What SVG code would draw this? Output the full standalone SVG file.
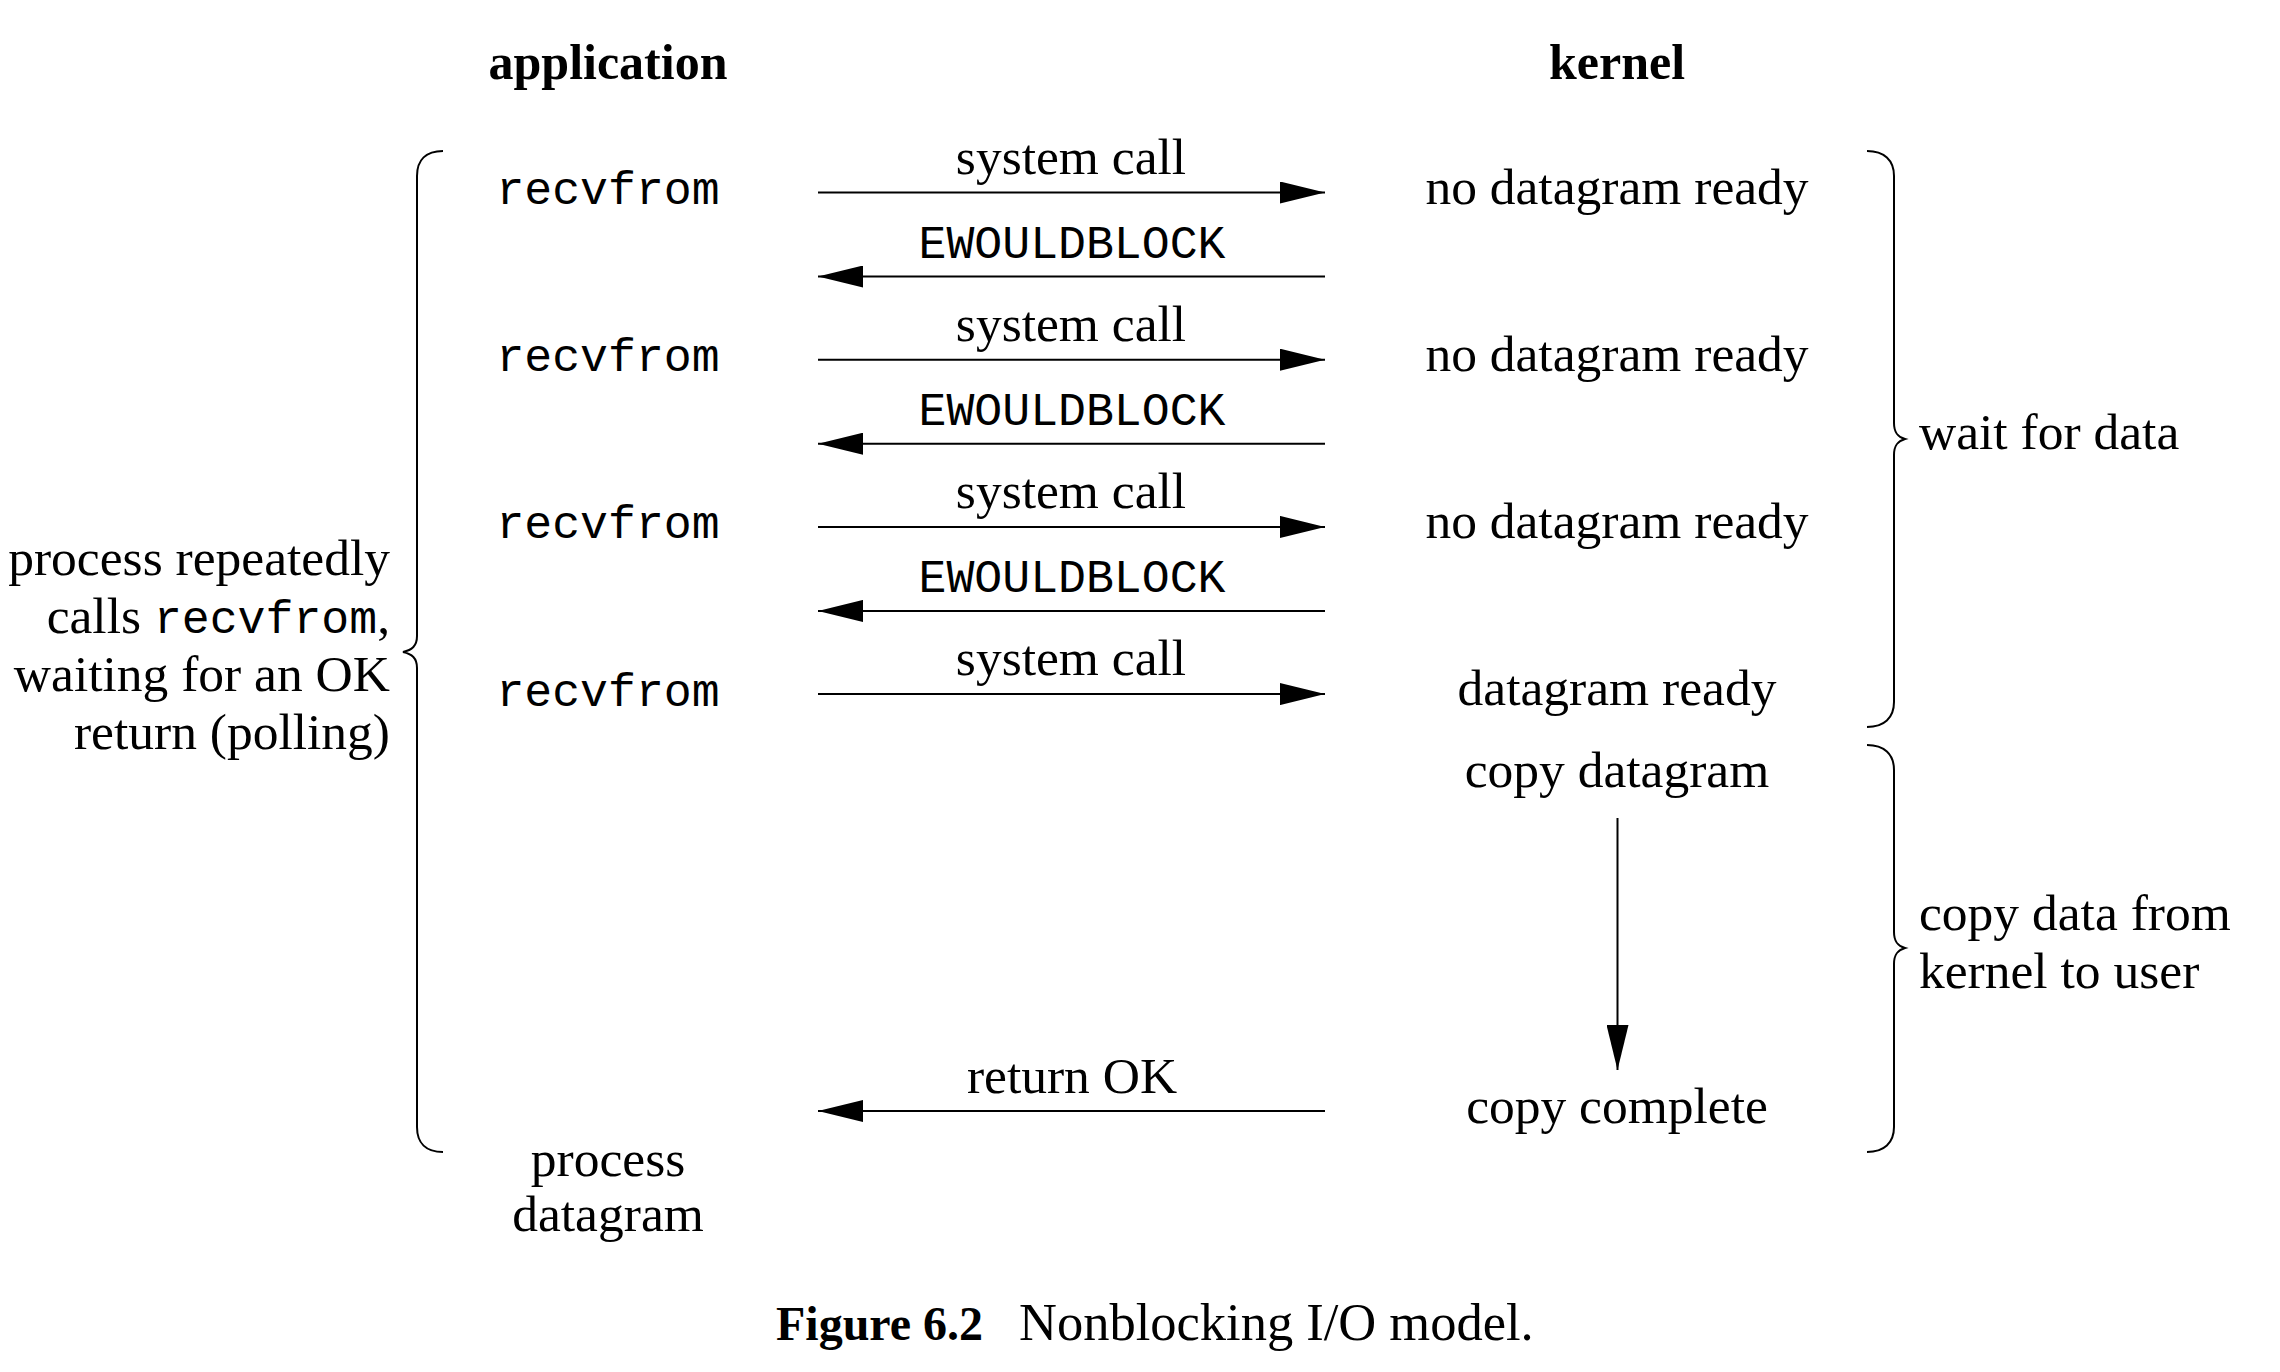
<svg xmlns="http://www.w3.org/2000/svg" width="2280" height="1372" viewBox="0 0 2280 1372">
<style>
.s{font-family:"Liberation Serif","Times New Roman",serif;font-size:51.5px;fill:#000}
.b{font-family:"Liberation Serif","Times New Roman",serif;font-size:50px;font-weight:bold;fill:#000}
.m{font-family:"Liberation Mono","Courier New",monospace;font-size:46.5px;fill:#000}
.c{text-anchor:middle}
.e{text-anchor:end}
.ln{stroke:#000;stroke-width:2;fill:none}
.br{stroke:#000;stroke-width:2;fill:none}
</style>
<defs>
<marker id="ah" viewBox="0 0 45 22" refX="45" refY="11" markerWidth="45" markerHeight="22" orient="auto" markerUnits="userSpaceOnUse">
<path d="M0,0 L45,11 L0,22 Z" fill="#000"/>
</marker>
</defs>
<rect width="2280" height="1372" fill="#fff"/>

<g id="headers">
<text class="b c" x="608" y="79">application</text>
<text class="b c" x="1617" y="79">kernel</text>
</g>

<g id="app-calls">
<text class="m c" x="608" y="204">recvfrom</text>
<text class="m c" x="608" y="371">recvfrom</text>
<text class="m c" x="608" y="538">recvfrom</text>
<text class="m c" x="608" y="706">recvfrom</text>
<text class="s c" x="608" y="1176">process</text>
<text class="s c" x="608" y="1231">datagram</text>
</g>

<g id="kernel-states">
<text class="s c" x="1617" y="204">no datagram ready</text>
<text class="s c" x="1617" y="371">no datagram ready</text>
<text class="s c" x="1617" y="538">no datagram ready</text>
<text class="s c" x="1617" y="705">datagram ready</text>
<text class="s c" x="1617" y="787">copy datagram</text>
<text class="s c" x="1617" y="1123">copy complete</text>
</g>

<g id="connectors">
<line class="ln" x1="818" y1="192.5" x2="1325" y2="192.5" marker-end="url(#ah)"/>
<line class="ln" x1="1325" y1="276.5" x2="818" y2="276.5" marker-end="url(#ah)"/>
<line class="ln" x1="818" y1="359.7" x2="1325" y2="359.7" marker-end="url(#ah)"/>
<line class="ln" x1="1325" y1="443.7" x2="818" y2="443.7" marker-end="url(#ah)"/>
<line class="ln" x1="818" y1="526.9" x2="1325" y2="526.9" marker-end="url(#ah)"/>
<line class="ln" x1="1325" y1="610.9" x2="818" y2="610.9" marker-end="url(#ah)"/>
<line class="ln" x1="818" y1="694.1" x2="1325" y2="694.1" marker-end="url(#ah)"/>
<line class="ln" x1="1617.5" y1="818" x2="1617.5" y2="1070" marker-end="url(#ah)"/>
<line class="ln" x1="1325" y1="1111" x2="818" y2="1111" marker-end="url(#ah)"/>
</g>

<g id="connector-labels">
<text class="s c" x="1071" y="174">system call</text>
<text class="m c" x="1072" y="258">EWOULDBLOCK</text>
<text class="s c" x="1071" y="341">system call</text>
<text class="m c" x="1072" y="425">EWOULDBLOCK</text>
<text class="s c" x="1071" y="508">system call</text>
<text class="m c" x="1072" y="592">EWOULDBLOCK</text>
<text class="s c" x="1071" y="675">system call</text>
<text class="s c" x="1072" y="1093">return OK</text>
</g>

<g id="left-brace">
<path class="br" d="M443,151 C426,151 417,160 417,176 L417,636 C417,646 412,650 403,652 C412,654 417,658 417,668 L417,1127 C417,1143 426,1152 443,1152"/>
<text class="s e" x="390" y="575">process repeatedly</text>
<text class="s e" x="390" y="633">calls <tspan class="m">recvfrom</tspan>,</text>
<text class="s e" x="390" y="691">waiting for an OK</text>
<text class="s e" x="390" y="749">return (polling)</text>
</g>

<g id="wait-brace">
<path class="br" d="M1867,151 C1884,151 1894,160 1894,176 L1894,423 C1894,433 1898,437 1905,439 C1898,441 1894,445 1894,455 L1894,702 C1894,718 1884,727 1867,727"/>
<text class="s" x="1919" y="449">wait for data</text>
</g>

<g id="copy-brace">
<path class="br" d="M1867,745 C1884,745 1894,754 1894,770 L1894,932 C1894,942 1898,946 1905,948 C1898,950 1894,954 1894,964 L1894,1127 C1894,1143 1884,1152 1867,1152"/>
<text class="s" x="1919" y="930">copy data from</text>
<text class="s" x="1919" y="988">kernel to user</text>
</g>

<g id="caption">
<text class="b" x="776" y="1340" style="font-size:48px">Figure 6.2</text>
<text class="s" x="1019" y="1340" style="font-size:52.5px">Nonblocking I/O model.</text>
</g>
</svg>
